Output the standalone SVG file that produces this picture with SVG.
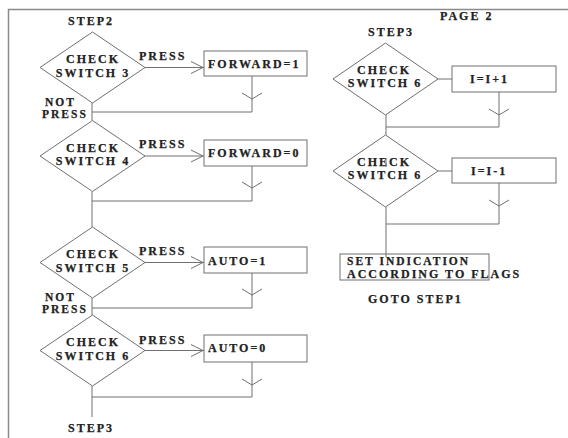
<svg xmlns="http://www.w3.org/2000/svg" width="568" height="438" viewBox="0 0 568 438">
<style>
text{font-family:"Liberation Serif","Times New Roman",serif;font-weight:bold;font-size:12px;letter-spacing:2px;fill:#222;stroke:#222;stroke-width:0.25}
.m{text-anchor:middle}
.n{font-size:11.5px}
.s{fill:#fff;stroke:#707070;stroke-width:1}
.c{fill:none;stroke:#707070;stroke-width:1}
.f{fill:none;stroke:#8a8a8a;stroke-width:1.5}
</style>
<defs>
<path id="ah" d="M-12,-6 L0,0 L-12,6" fill="none" stroke="#707070" stroke-width="1"/>
<path id="ad" d="M-10,-6 L0,0 L10,-6" fill="none" stroke="#707070" stroke-width="1"/>
</defs>
<rect width="568" height="438" fill="#fff"/>
<path class="f" d="M8.5,438 V9.5 H568"/>
<text x="68" y="25">STEP2</text>
<text x="440" y="20">PAGE 2</text>
<text x="368" y="36">STEP3</text>
<g id="connectors">
<path class="c" d="M145,67.5 H204"/><use href="#ah" x="203" y="67.5"/>
<path class="c" d="M145,156 H204"/><use href="#ah" x="203" y="156"/>
<path class="c" d="M145,262.5 H204"/><use href="#ah" x="203" y="262.5"/>
<path class="c" d="M145,350.5 H204"/><use href="#ah" x="203" y="350.5"/>
<path class="c" d="M252,76 V112 H92"/><use href="#ad" x="252" y="99"/>
<path class="c" d="M252,166 V201 H92"/><use href="#ad" x="252" y="188"/>
<path class="c" d="M252,273 V308 H92"/><use href="#ad" x="252" y="295"/>
<path class="c" d="M252,362 V397 H92"/><use href="#ad" x="252" y="385"/>
<path class="c" d="M92,103 V120.5 M92,191.5 V227 M92,298 V315 M92,386 V417"/>
<path class="c" d="M438,79 H452 M438,171 H452"/>
<path class="c" d="M499,92 V127 H386"/><use href="#ad" x="499" y="115"/>
<path class="c" d="M499,183 V224 H386"/><use href="#ad" x="499" y="206"/>
<path class="c" d="M386,115 V135 M386,207 V257"/>
</g>
<g id="d1"><polygon class="s" points="40,67.5 92.5,32 145,67.5 92.5,103"/><text class="m" x="93" y="63">CHECK</text><text class="m" x="93" y="77">SWITCH 3</text></g>
<g id="d2"><polygon class="s" points="40,156 92.5,120.5 145,156 92.5,191.5"/><text class="m" x="93" y="152">CHECK</text><text class="m" x="93" y="165">SWITCH 4</text></g>
<g id="d3"><polygon class="s" points="40,262.5 92.5,227 145,262.5 92.5,298"/><text class="m" x="93" y="258">CHECK</text><text class="m" x="93" y="272">SWITCH 5</text></g>
<g id="d4"><polygon class="s" points="40,350.5 92.5,315 145,350.5 92.5,386"/><text class="m" x="93" y="346">CHECK</text><text class="m" x="93" y="360">SWITCH 6</text></g>
<g id="b1"><rect class="s" x="204" y="51" width="103" height="25"/><text x="208" y="68">FORWARD=1</text></g>
<g id="b2"><rect class="s" x="204" y="140" width="103" height="26"/><text x="208" y="157">FORWARD=0</text></g>
<g id="b3"><rect class="s" x="204" y="247" width="103" height="26"/><text x="208" y="265">AUTO=1</text></g>
<g id="b4"><rect class="s" x="204" y="335" width="103" height="27"/><text x="208" y="352">AUTO=0</text></g>
<g id="labels">
<text x="139" y="60">PRESS</text>
<text x="139" y="148">PRESS</text>
<text x="139" y="255">PRESS</text>
<text x="139" y="344">PRESS</text>
<text class="n" x="45" y="106">NOT</text><text class="n" x="42" y="118">PRESS</text>
<text class="n" x="45" y="301">NOT</text><text class="n" x="42" y="313">PRESS</text>
<text x="68" y="432">STEP3</text>
</g>
<g id="r1"><polygon class="s" points="333,79 385.5,43 438,79 385.5,115"/><text class="m" x="384" y="74">CHECK</text><text class="m" x="385" y="87">SWITCH 6</text></g>
<g id="r2"><polygon class="s" points="333,171 385.5,135 438,171 385.5,207"/><text class="m" x="384" y="166">CHECK</text><text class="m" x="385" y="179">SWITCH 6</text></g>
<path class="c" d="M386,158 V167"/>
<g id="rb1"><rect class="s" x="452" y="66" width="104" height="26"/><text x="470" y="83">I=I+1</text></g>
<g id="rb2"><rect class="s" x="452" y="158" width="104" height="25"/><text x="471" y="175">I=I-1</text></g>
<g id="set"><rect class="s" x="340" y="254" width="149" height="26" fill="none"/><path class="c" d="M386,254 V257"/><text class="n" x="347" y="265">SET INDICATION</text><text x="347" y="278">ACCORDING TO FLAGS</text></g>
<text x="368" y="303">GOTO STEP1</text>
</svg>
